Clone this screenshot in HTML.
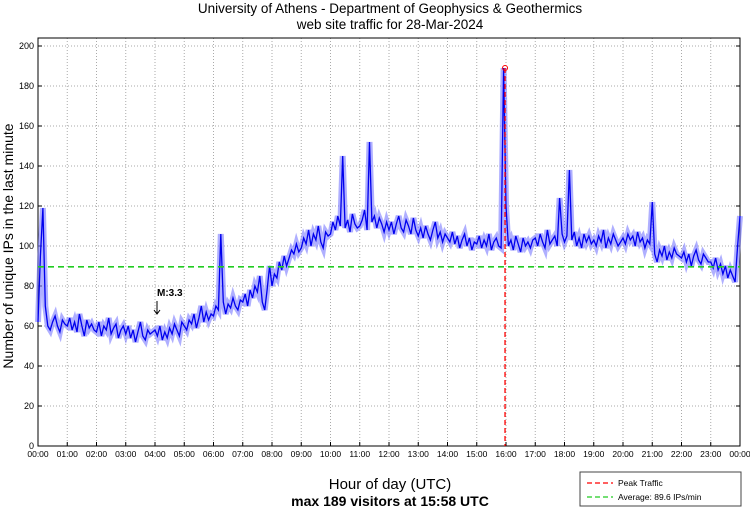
<!DOCTYPE html>
<html><head><meta charset="utf-8"><style>
body{margin:0;background:#fff;width:750px;height:511px;overflow:hidden;font-family:"Liberation Sans",sans-serif}
</style></head><body>
<svg id="chart" width="750" height="511" xmlns="http://www.w3.org/2000/svg" font-family="Liberation Sans, sans-serif">
<text x="390" y="13" font-size="13.5" text-anchor="middle">University of Athens - Department of Geophysics &amp; Geothermics</text>
<text x="390" y="29" font-size="13.5" text-anchor="middle">web site traffic for 28-Mar-2024</text>
<text transform="translate(13,246) rotate(-90)" font-size="14" text-anchor="middle">Number of unique IPs in the last minute</text>
<text x="390" y="489" font-size="15" text-anchor="middle">Hour of day (UTC)</text>
<text x="390" y="506" font-size="14" font-weight="bold" text-anchor="middle">max 189 visitors at 15:58 UTC</text>
<g id="grid"></g>
<g id="axes"></g>
<g id="series"></g>
<g>
<rect x="580" y="472" width="161" height="34" fill="#fff" stroke="#444"/>
<line x1="587" y1="483" x2="613" y2="483" stroke="#f00" stroke-dasharray="5,3" stroke-width="1.3"/>
<text x="618" y="486" font-size="8.5">Peak Traffic</text>
<line x1="587" y1="497" x2="613" y2="497" stroke="#2c2" stroke-dasharray="5,3" stroke-width="1.3"/>
<text x="618" y="500" font-size="8.5">Average: 89.6 IPs/min</text>
</g>
</svg>
<script>
const values = [
62,95,119,70,60,58,62,65,60,57,63,61,
60,64,58,62,57,66,60,55,63,59,61,58,
57,62,55,60,58,64,56,59,61,54,58,60,
56,60,54,58,52,57,62,55,53,58,56,57,
58,55,60,53,57,54,59,56,61,58,55,62,
60,58,63,61,66,59,64,70,62,67,63,66,
65,70,68,106,72,66,71,69,74,70,68,73,
72,76,70,78,74,80,77,85,72,68,78,90,
80,86,84,92,88,95,90,94,98,96,101,97,
99,104,101,108,100,106,103,110,102,99,107,105,
106,112,108,115,110,145,109,113,107,116,111,109,
110,113,118,108,152,112,115,109,114,111,107,112,
108,112,106,111,115,109,107,113,110,106,114,108,
105,109,104,110,106,103,108,112,104,107,102,106,
104,102,107,101,105,99,103,106,100,104,98,102,
101,105,99,103,100,106,98,102,104,100,99,189,
120,100,103,98,105,101,97,104,100,102,99,103,
104,100,106,102,99,108,101,103,105,100,124,106,
102,105,138,103,107,100,104,99,106,102,105,101,
103,100,105,102,108,99,104,101,106,103,100,102,
104,101,106,103,105,100,107,102,104,99,103,101,
122,96,92,98,95,100,93,97,94,99,96,95,
94,97,92,96,90,95,98,93,91,96,94,92,
92,89,94,88,91,86,90,84,88,85,82,100,
115];
const stepMinutes = 5;
const yTicks = [0,20,40,60,80,100,120,140,160,180,200];
const xTickLabels = ["00:00","01:00","02:00","03:00","04:00","05:00","06:00","07:00","08:00","09:00","10:00","11:00","12:00","13:00","14:00","15:00","16:00","17:00","18:00","19:00","20:00","21:00","22:00","23:00","00:00"];
const average = [89.6];
const peak = [958, 189];
const annotation = [240, 62, "M:3.3"];

const X0=38,X1=740,Y0=446,YT=38;
const xs = m => X0 + m/1440*(X1-X0);
const ys = v => Y0 - v*2;
const NS="http://www.w3.org/2000/svg";
function mk(parent,tag,attrs){const e=document.createElementNS(NS,tag);for(const k in attrs)e.setAttribute(k,attrs[k]);parent.appendChild(e);return e;}
const grid=document.getElementById('grid'), axes=document.getElementById('axes'), series=document.getElementById('series');

yTicks.forEach(v=>{
  const l=mk(grid,'line',{x1:X0,x2:X1,y1:ys(v),y2:ys(v),stroke:'#aaa','stroke-dasharray':'1,2'});
  
  
  mk(axes,'line',{x1:X0,x2:X0+4,y1:ys(v),y2:ys(v),stroke:'#000'});
  mk(axes,'line',{x1:X1-4,x2:X1,y1:ys(v),y2:ys(v),stroke:'#000'});
  const t=mk(axes,'text',{x:X0-4,y:ys(v)+3,'font-size':'9','text-anchor':'end'});
  t.textContent=v;
  
  
});
xTickLabels.forEach((s,i)=>{
  const x=xs(i*60);
  const l=mk(grid,'line',{x1:x,x2:x,y1:YT,y2:Y0,stroke:'#aaa','stroke-dasharray':'1,2'});
  
  
  mk(axes,'line',{x1:x,x2:x,y1:Y0,y2:Y0-4,stroke:'#000'});
  const t=mk(axes,'text',{x:x,y:Y0+11,'font-size':'8.5','text-anchor':'middle'});
  t.textContent=s;
  
  
});
mk(axes,'rect',{x:X0,y:YT,width:X1-X0,height:Y0-YT,fill:'none',stroke:'#000'});

const pts=values.map((v,i)=>xs(i*stepMinutes).toFixed(1)+','+ys(v).toFixed(1)).join(' ');
const pl=mk(series,'polyline',{points:pts,fill:'none',stroke:'#7a7aff','stroke-width':'6','stroke-linejoin':'miter','stroke-opacity':'0.6'});


const pl2=mk(series,'polyline',{points:pts,fill:'none',stroke:'#0000ee','stroke-width':'1.3'});



const av=mk(series,'line',{x1:X0,x2:X1,y1:ys(average[0]),y2:ys(average[0]),stroke:'#2c2','stroke-width':'1.6','stroke-dasharray':'6,4'});


const pk=mk(series,'line',{x1:xs(peak[0]),x2:xs(peak[0]),y1:ys(peak[1]),y2:Y0,stroke:'#f00','stroke-width':'1.3','stroke-dasharray':'5,3'});


const pm=mk(series,'circle',{cx:xs(peak[0]),cy:ys(peak[1]),r:2.5,fill:'none',stroke:'#f00'});



const at=mk(series,'text',{x:xs(annotation[0])+2,y:ys(annotation[1])-26,'font-size':'10','font-weight':'bold'});
at.textContent=annotation[2];


const ax=xs(annotation[0])+2, ay=ys(annotation[1])-8;
const ar=mk(series,'path',{d:`M${ax},${ay-13} L${ax},${ay} M${ax-3},${ay-4} L${ax},${ay} L${ax+3},${ay-4}`,stroke:'#000',fill:'none','stroke-width':'1'});


</script>
</body></html>
